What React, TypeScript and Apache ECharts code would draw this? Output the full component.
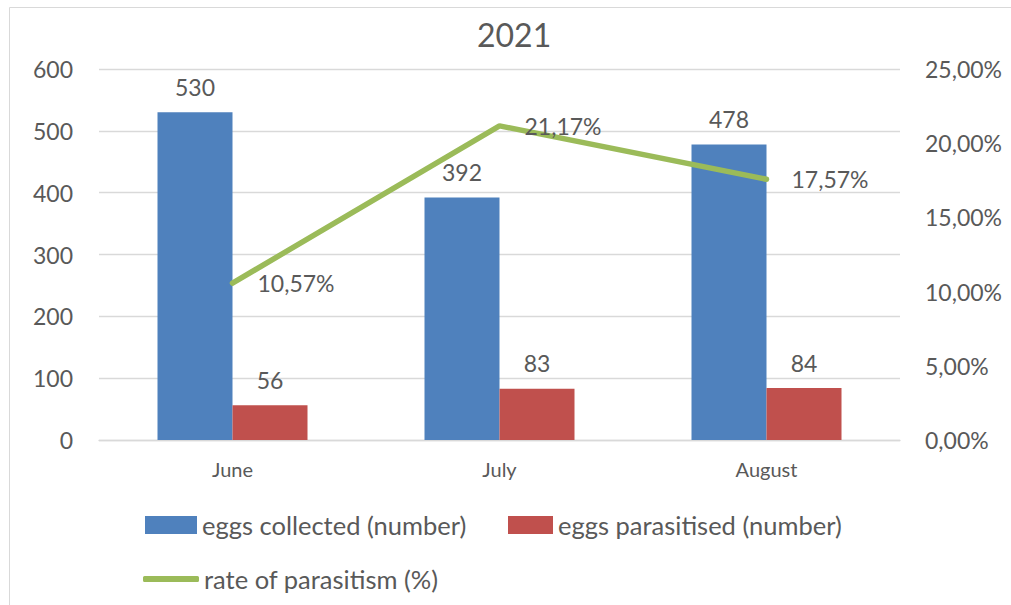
import { useEffect, useRef } from 'react';
import * as echarts from 'echarts';

const title = '2021';
const categories = ['June', 'July', 'August'];
const eggsCollected = [530, 392, 478];
const eggsParasitised = [56, 83, 84];
const rateOfParasitism = [10.57, 21.17, 17.57];
const seriesNames = ['eggs collected (number)', 'eggs parasitised (number)', 'rate of parasitism (%)'];

const FONT = 'Lato';
const TXT = '#595959';
const BLUE = '#4f81bd';
const RED = '#c0504d';
const GREEN = '#9bbb59';

const pct = (v: number) => v.toFixed(2).replace('.', ',') + '%';

export default function App() {
  const ref = useRef<HTMLDivElement>(null);
  useEffect(() => {
    if (!ref.current) return;
    const chart = echarts.init(ref.current, undefined, { renderer: 'svg' });
    const legendText = { fontFamily: FONT, fontSize: 25.5, color: TXT };
    chart.setOption({
      animation: false,
      backgroundColor: '#ffffff',
      textStyle: { fontFamily: FONT, color: TXT },
      title: {
        text: title,
        left: 477,
        top: 18,
        padding: 0,
        textStyle: { fontFamily: FONT, fontSize: 32, fontWeight: 'normal', color: TXT },
      },
      graphic: [
        {
          type: 'rect',
          shape: { x: 9.5, y: 7.5, width: 1200, height: 800 },
          style: { fill: 'none', stroke: '#d9d9d9', lineWidth: 1 },
          silent: true,
        },
      ],
      grid: { left: 99, right: 111, top: 69, bottom: 165, containLabel: false },
      legend: [
        {
          data: [seriesNames[0]],
          left: 145,
          top: 512,
          padding: 0,
          itemWidth: 52,
          itemHeight: 18,
          icon: 'rect',
          textStyle: legendText,
        },
        {
          data: [seriesNames[1]],
          left: 508,
          top: 512,
          padding: 0,
          itemWidth: 45,
          itemHeight: 18,
          icon: 'rect',
          textStyle: legendText,
        },
        {
          data: [{ name: seriesNames[2], icon: 'roundRect' }],
          left: 143,
          top: 566,
          padding: 0,
          itemWidth: 56,
          itemHeight: 6,
          itemStyle: { color: GREEN },
          textStyle: legendText,
        },
      ],
      xAxis: {
        type: 'category',
        data: categories,
        axisLine: { lineStyle: { color: '#d9d9d9', width: 1.3 } },
        axisTick: { show: false },
        axisLabel: { fontFamily: FONT, fontSize: 20, color: TXT, margin: 19 },
      },
      yAxis: [
        {
          type: 'value',
          min: 0,
          max: 600,
          interval: 100,
          axisLine: { show: false },
          axisTick: { show: false },
          splitLine: { lineStyle: { color: '#d9d9d9', width: 1.3 } },
          axisLabel: { fontFamily: FONT, fontSize: 23, color: TXT, margin: 26 },
        },
        {
          type: 'value',
          min: 0,
          max: 25,
          interval: 5,
          position: 'right',
          axisLine: { show: false },
          axisTick: { show: false },
          splitLine: { show: false },
          axisLabel: { fontFamily: FONT, fontSize: 23, color: TXT, margin: 25, formatter: pct },
        },
      ],
      series: [
        {
          name: seriesNames[0],
          type: 'bar',
          data: eggsCollected,
          barWidth: 75,
          barGap: '0%',
          itemStyle: { color: BLUE },
          label: { show: true, position: 'top', distance: 14, fontFamily: FONT, fontSize: 23, color: TXT },
        },
        {
          name: seriesNames[1],
          type: 'bar',
          data: eggsParasitised,
          barWidth: 75,
          barGap: '0%',
          itemStyle: { color: RED },
          label: { show: true, position: 'top', distance: 14, fontFamily: FONT, fontSize: 23, color: TXT },
        },
        {
          name: seriesNames[2],
          type: 'line',
          yAxisIndex: 1,
          data: rateOfParasitism,
          symbol: 'circle',
          symbolSize: 2,
          showSymbol: true,
          lineStyle: { color: GREEN, width: 5.5, cap: 'round' },
          itemStyle: { color: GREEN },
          label: {
            show: true,
            position: 'right',
            distance: 24,
            fontFamily: FONT,
            fontSize: 23,
            color: TXT,
            formatter: (p: any) => pct(p.value),
          },
          z: 3,
        },
      ],
    });
    return () => chart.dispose();
  }, []);
  return <div ref={ref} style={{ position: 'absolute', left: 0, top: 0, width: 1011, height: 605 }} />;
}
